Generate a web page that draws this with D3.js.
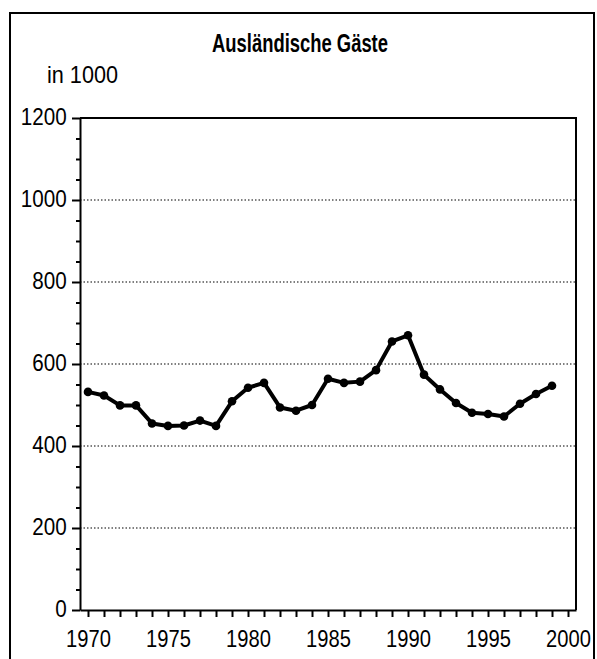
<!DOCTYPE html>
<html><head><meta charset="utf-8">
<script src="https://cdn.jsdelivr.net/npm/d3@7"></script>
<style>
html,body{margin:0;padding:0;background:#fff;}
svg{display:block;}
text{font-family:"Liberation Sans",Arial,Helvetica,sans-serif;fill:#000;}
</style></head>
<body>
<script>
const title = "Ausländische Gäste";
const unitLabel = "in 1000";
const years = [1970,1971,1972,1973,1974,1975,1976,1977,1978,1979,1980,1981,1982,1983,1984,1985,1986,1987,1988,1989,1990,1991,1992,1993,1994,1995,1996,1997,1998,1999];
const guests = [532,523,499,499,455,449,450,462,449,509,542,554,494,486,500,564,554,557,585,655,670,574,538,505,481,478,472,503,527,547];
const yMajorTicks = [0,200,400,600,800,1000,1200];
const yMinorTicks = [50,100,150,250,300,350,450,500,550,650,700,750,850,900,950,1050,1100,1150];
const xTickYears = d3.range(1970, 2001);
const xLabelYears = [1970,1975,1980,1985,1990,1995,2000];

const W = 597, H = 659;
const svg = d3.select("body").append("svg").attr("width", W).attr("height", H);

// outer frame
svg.append("rect").attr("x",10).attr("y",13).attr("width",584).attr("height",700)
  .attr("fill","none").attr("stroke","#000").attr("stroke-width",2);

const x = d3.scaleLinear().domain([1969.5, 2000.5]).range([80, 576]);
const y = d3.scaleLinear().domain([0, 1200]).range([610, 118]);

// gridlines
svg.append("g").selectAll("line").data([200,400,600,800,1000]).join("line")
  .attr("x1", 80).attr("x2", 576)
  .attr("y1", d => y(d)).attr("y2", d => y(d))
  .attr("stroke", "#000").attr("stroke-width", 1.2).attr("stroke-dasharray", "1.5,2");

// plot box top & right
svg.append("path")
  .attr("d", `M${x.range()[0]},${y.range()[1]}H${x.range()[1]}V${y.range()[0]}`)
  .attr("fill","none").attr("stroke","#000").attr("stroke-width",2);

// y axis minor ticks
svg.append("g").attr("transform","translate(80,0)")
  .call(d3.axisLeft(y).tickValues(yMinorTicks).tickSize(4).tickFormat("").tickSizeOuter(0))
  .call(g => g.select(".domain").remove())
  .call(g => g.selectAll("line").attr("stroke-width",2));

// y axis major
const yAx = svg.append("g").attr("transform","translate(80,0)")
  .call(d3.axisLeft(y).tickValues(yMajorTicks).tickSize(8).tickSizeOuter(0).tickFormat(d3.format("d")));
yAx.select(".domain").attr("stroke-width",2);
yAx.selectAll("line").attr("stroke-width",2);
yAx.selectAll("text").attr("font-size",24).attr("font-family",'"Liberation Sans",Arial,sans-serif')
  .attr("x",-15.5).attr("dy","0.25em").attr("transform","scale(0.86,1)");

// x axis
const xAx = svg.append("g").attr("transform","translate(0,610)")
  .call(d3.axisBottom(x).tickValues(xTickYears).tickSize(7).tickPadding(13).tickSizeOuter(0)
    .tickFormat(d => xLabelYears.includes(d) ? String(d) : ""));
xAx.select(".domain").attr("stroke-width",2);
xAx.selectAll("line").attr("stroke-width",2);
xAx.selectAll("text").attr("font-size",24).attr("font-family",'"Liberation Sans",Arial,sans-serif')
  .attr("text-anchor","middle").attr("transform","scale(0.84,1)");

// line
const line = d3.line().x((d,i) => x(years[i])).y(d => y(d));
svg.append("path").datum(guests).attr("d", line)
  .attr("fill","none").attr("stroke","#000").attr("stroke-width",4).attr("stroke-linejoin","round");
svg.append("g").selectAll("circle").data(guests).join("circle")
  .attr("cx",(d,i)=>x(years[i])).attr("cy",d=>y(d)).attr("r",4.3).attr("fill","#000");

// title
const tt = svg.append("text").attr("x",300).attr("y",52).attr("text-anchor","middle")
  .attr("font-size",25).attr("font-weight","bold").text(title);
tt.attr("textLength",176).attr("lengthAdjust","spacingAndGlyphs");

const ut = svg.append("text").attr("x",47).attr("y",83).attr("font-size",24).text(unitLabel);
ut.attr("textLength",71).attr("lengthAdjust","spacingAndGlyphs");
</script>
</body></html>
